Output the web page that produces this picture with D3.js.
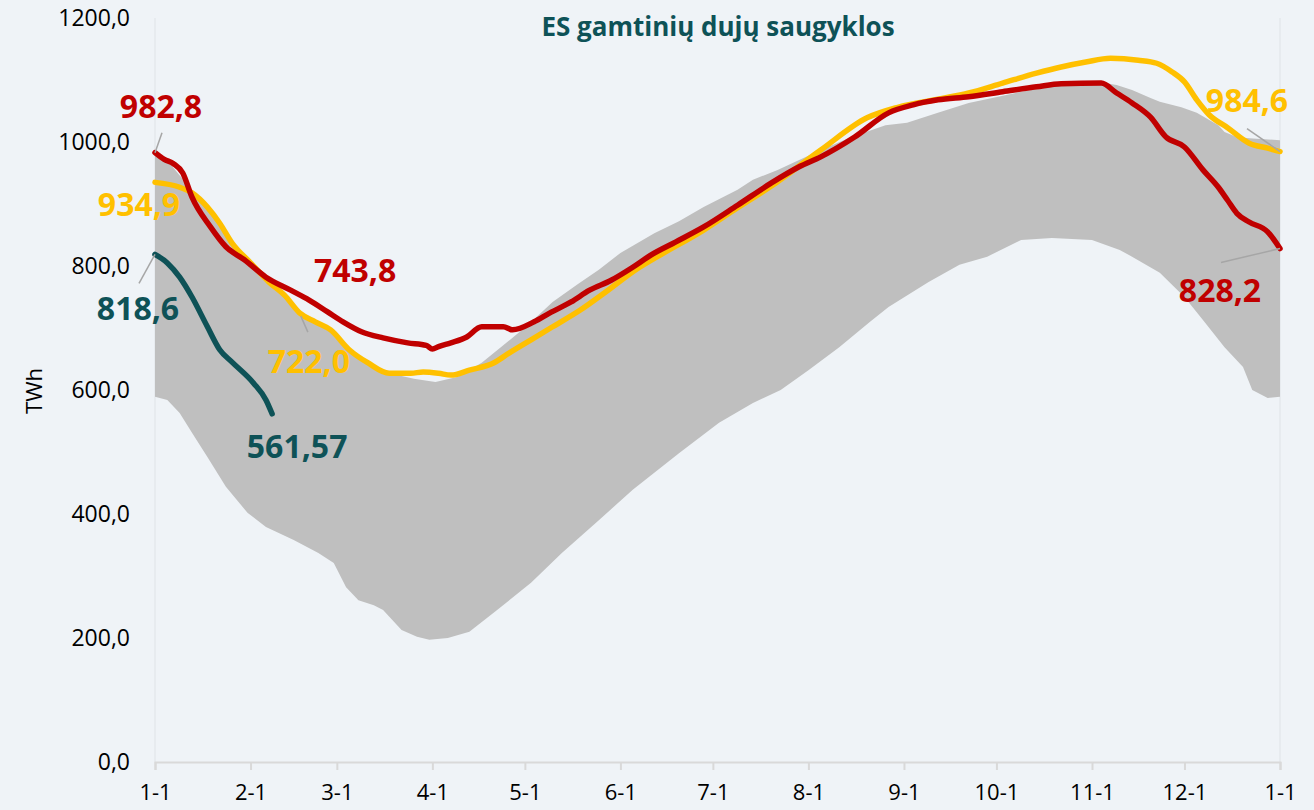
<!DOCTYPE html>
<html>
<head>
<meta charset="utf-8">
<script src="https://cdn.jsdelivr.net/npm/d3@7"></script>
<style>
  body { margin: 0; background: #eff3f7; }
  svg { display: block; font-family: "Open Sans", sans-serif; }
</style>
</head>
<body>
<div id="chart"></div>
<script>
// Days are counted from 1 January (0) to 1 January of the next year (365)

// grey band: range of earlier years
var bandUpperDays   = [0, 4, 12, 18, 25, 31, 37, 47, 57, 66, 76, 84, 91, 98, 106, 113, 121, 129, 137, 144, 151, 162, 170, 178, 189, 194, 202, 209, 216, 226, 237, 244, 254, 264, 281, 291, 308, 312, 317, 323, 326, 333, 338, 345, 347, 351, 355, 365];
var bandUpperValues = [980, 970, 922, 885, 840, 805, 778, 727, 700, 653, 627, 618, 613, 621, 644, 672, 705, 742, 770, 794, 821, 853, 872, 895, 923, 939, 955, 971, 987, 1008, 1027, 1031, 1047, 1063, 1081, 1090, 1095, 1092, 1084, 1071, 1065, 1056, 1047, 1027, 1016, 1008, 1006, 1003];

var bandLowerDays   = [0, 4, 8, 12, 17, 23, 30, 36, 45, 53, 58, 62, 66, 71, 74, 80, 85, 89, 95, 102, 111, 122, 132, 144, 155, 170, 183, 194, 203, 212, 222, 232, 238, 251, 261, 270, 281, 291, 304, 313, 317, 326, 334, 340, 347, 353, 356, 361, 365];
var bandLowerValues = [589, 584, 563, 531, 492, 444, 402, 379, 358, 337, 321, 282, 261, 253, 245, 213, 202, 197, 200, 210, 245, 289, 337, 390, 439, 498, 547, 579, 600, 632, 669, 710, 734, 774, 802, 815, 842, 845, 842, 826, 815, 789, 750, 713, 669, 637, 600, 587, 589];

// red series
var redDays   = [0, 3, 6, 9, 12, 18, 23, 29, 36, 44, 50, 56, 61, 67, 74, 82, 88, 90, 92, 96, 101, 106, 113, 116, 123, 128, 135, 141, 148, 155, 161, 169, 178, 189, 200, 209, 216, 227, 238, 246, 254, 264, 275, 286, 294, 307, 312, 317, 323, 328, 334, 340, 345, 348, 351, 355, 361, 365];
var redValues = [982.8, 972, 965, 950, 911, 863, 831, 810, 782, 761, 745, 726, 710, 694, 684, 676, 672, 666, 670, 676, 685, 702, 702, 697, 710, 724, 742, 761, 777, 798, 818, 839, 863, 898, 934, 960, 976, 1008, 1047, 1060, 1068, 1073, 1081, 1089, 1094, 1095, 1079, 1063, 1040, 1008, 992, 955, 927, 906, 885, 871, 855, 828.2];

// yellow series
var yellowDays   = [0, 8, 12, 17, 21, 25, 31, 37, 42, 47, 52, 57, 63, 69, 76, 83, 87, 92, 96, 102, 110, 115, 122, 129, 138, 147, 156, 164, 178, 189, 200, 216, 231, 241, 254, 264, 275, 286, 294, 302, 310, 319, 325, 330, 334, 338, 342, 348, 355, 361, 365];
var yellowValues = [934.9, 927, 918, 895, 869, 837, 805, 774, 753, 724, 710, 697, 665, 644, 627, 627, 629, 627, 624, 632, 644, 660, 681, 702, 729, 761, 794, 818, 858, 894, 929, 987, 1039, 1056, 1069, 1079, 1095, 1111, 1121, 1129, 1135, 1132, 1127, 1113, 1097, 1068, 1044, 1023, 998, 990, 984.6];

// teal series (current year, partial)
var tealDays   = [0, 4, 8, 12, 17, 21, 25, 32, 36, 38];
var tealValues = [818.6, 805, 782, 750, 702, 665, 645, 611, 584, 561.57];

var yTicks = [0, 200, 400, 600, 800, 1000, 1200];

// value labels: text, series colour key, day and value they point at
var labelTexts  = ["982,8", "934,9", "818,6", "561,57", "743,8", "722,0", "984,6", "828,2"];
var labelSeries = ["red", "yellow", "teal", "teal", "red", "yellow", "yellow", "red"];
var labelDays   = [0, 0, 0, 38, 50, 47, 365, 365];
var labelValues = [982.8, 934.9, 818.6, 561.57, 745, 724, 984.6, 828.2];

var svgWidth = 1314;
var svgHeight = 810;

var colors = { red: "#c00000", yellow: "#ffc000", teal: "#0e5257", band: "#bfbfbf" };

var svg = d3.select("#chart")
  .append("svg")
  .attr("width", svgWidth)
  .attr("height", svgHeight);

svg.append("rect")
  .attr("width", svgWidth)
  .attr("height", svgHeight)
  .attr("fill", "#eff3f7");

var start = new Date(Date.UTC(2023, 0, 1));
var end = new Date(Date.UTC(2024, 0, 1));
function dayDate(d) { return d3.utcDay.offset(start, d); }

var xScale = d3.scaleUtc()
  .domain([start, end])
  .range([155, 1280]);

var yScale = d3.scaleLinear()
  .domain([0, 1200])
  .range([762, 18]);

function pairs(days, values) {
  return days.map(function (d, i) { return [d, values[i]]; });
}

// faint border lines at both ends of the plot
svg.selectAll(".edge")
  .data([start, end])
  .enter()
  .append("line")
  .attr("x1", d => xScale(d))
  .attr("x2", d => xScale(d))
  .attr("y1", yScale(1200))
  .attr("y2", yScale(0))
  .attr("stroke", "#dfe3e7")
  .attr("stroke-width", 1);

// band polygon: upper forward, lower backwards
var bandPoints = pairs(bandUpperDays, bandUpperValues)
  .concat(pairs(bandLowerDays, bandLowerValues).reverse());

var lineGen = d3.line()
  .x(d => xScale(dayDate(d[0])))
  .y(d => yScale(d[1]))
  .curve(d3.curveLinear);

svg.append("path")
  .attr("d", lineGen(bandPoints) + "Z")
  .attr("fill", colors.band);

var smoothLine = d3.line()
  .x(d => xScale(dayDate(d[0])))
  .y(d => yScale(d[1]))
  .curve(d3.curveMonotoneX);

var series = [
  { key: "yellow", points: pairs(yellowDays, yellowValues) },
  { key: "red", points: pairs(redDays, redValues) },
  { key: "teal", points: pairs(tealDays, tealValues) }
];

svg.selectAll(".series")
  .data(series)
  .enter()
  .append("path")
  .attr("d", d => smoothLine(d.points))
  .attr("fill", "none")
  .attr("stroke", d => colors[d.key])
  .attr("stroke-width", 5.5)
  .attr("stroke-linecap", "round")
  .attr("stroke-linejoin", "round");

// x axis
var xAxis = d3.axisBottom(xScale)
  .ticks(d3.utcMonth.every(1))
  .tickFormat(d3.utcFormat("%-m-%-d"))
  .tickSize(8)
  .tickPadding(14);

var xAxisG = svg.append("g")
  .attr("transform", `translate(0, ${yScale(0)})`)
  .call(xAxis);

xAxisG.select(".domain").attr("stroke", "#d9d9d9").attr("stroke-width", 2);
xAxisG.selectAll(".tick line").attr("stroke", "#d9d9d9").attr("stroke-width", 2);
xAxisG.selectAll(".tick text")
  .attr("font-family", "Open Sans")
  .attr("font-size", "22px")
  .attr("fill", "#000");

// y axis, labels only
var yAxis = d3.axisLeft(yScale)
  .tickValues(yTicks)
  .tickFormat(d => d3.format(".1f")(d).replace(".", ","))
  .tickSize(0)
  .tickPadding(25);

var yAxisG = svg.append("g")
  .attr("transform", "translate(155, 0)")
  .call(yAxis);

yAxisG.select(".domain").remove();
yAxisG.selectAll(".tick text")
  .attr("font-family", "Open Sans")
  .attr("font-size", "23px")
  .attr("fill", "#000");

svg.append("text")
  .attr("transform", "translate(42, 391) rotate(-90)")
  .attr("text-anchor", "middle")
  .attr("font-size", "22px")
  .attr("fill", "#000")
  .text("TWh");

// title
svg.append("text")
  .attr("x", 718)
  .attr("y", 36)
  .attr("text-anchor", "middle")
  .attr("font-size", "26px")
  .attr("font-weight", "bold")
  .attr("fill", "#0e5257")
  .text("ES gamtinių dujų saugyklos");

// label placement relative to the point (layout only)
var labelDx = [6, -16, -17, 25, 46, 9, -33, -60];
var labelDy = [-35, 34, 66, 44, -18, 60, -40, 53];
var leaderFrom = [[7, -20], null, [-16, 29], null, null, [1, 3], [-33, -23], [-59, 14]];

labelTexts.forEach(function (t, i) {
  var px = xScale(dayDate(labelDays[i]));
  var py = yScale(labelValues[i]);
  if (leaderFrom[i]) {
    svg.append("line")
      .attr("x1", px + leaderFrom[i][0])
      .attr("y1", py + leaderFrom[i][1])
      .attr("x2", i == 5 ? px + 8 : px)
      .attr("y2", i == 5 ? py + 19 : py)
      .attr("stroke", "#a6a6a6")
      .attr("stroke-width", 1.5);
  }
  svg.append("text")
    .attr("x", px + labelDx[i])
    .attr("y", py + labelDy[i])
    .attr("text-anchor", "middle")
    .attr("font-size", "32px")
    .attr("font-weight", "bold")
    .attr("fill", colors[labelSeries[i]])
    .text(t);
});
</script>
</body>
</html>
